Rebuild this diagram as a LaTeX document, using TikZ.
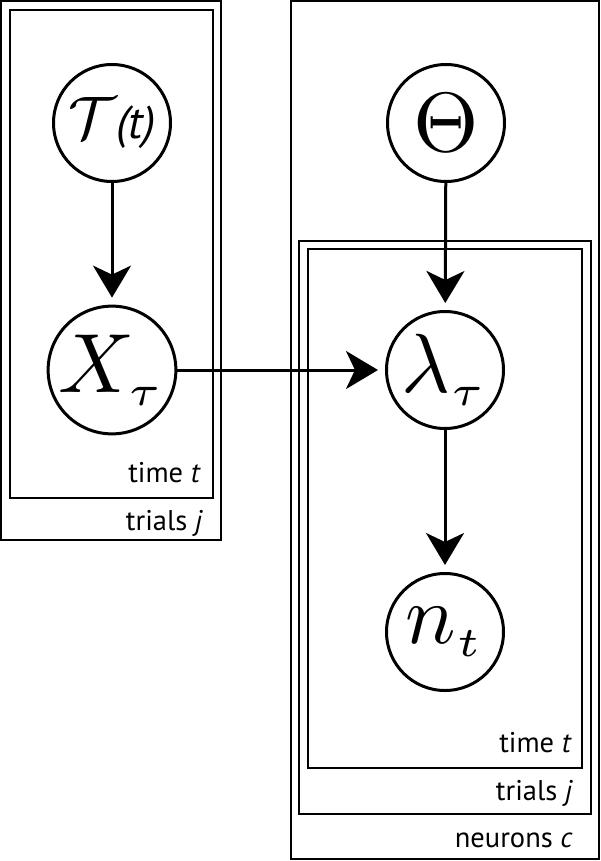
\documentclass[tikz,border=0pt]{standalone}
\usepackage{fontspec}
\usepackage{graphicx}
\newfontfamily\lab{PT Sans}
\usetikzlibrary{arrows.meta}
\begin{document}
\begin{tikzpicture}[x=1pt,y=-1pt,
  plate/.style={draw, line width=1.5pt},
  rv/.style={circle, draw, line width=3pt, minimum size=117pt, inner sep=0pt},
  arr/.style={line width=3pt, -{Stealth[length=32pt,width=38pt,inset=9pt]}, shorten >=7pt},
  lbl/.style={anchor=base east, inner sep=0pt, font=\lab\fontsize{28.5}{28.5}\selectfont}]
\useasboundingbox (0,0) rectangle (600,861);
% plates
\draw[plate] (1,1) rectangle (221,540);
\draw[plate] (10,10) rectangle (213,498);
\draw[plate] (291,1) rectangle (599,859);
\draw[plate] (299,241) rectangle (591,814);
\draw[plate] (308,249) rectangle (582,768);
% labels
\node[lbl] (l1) at (201,482) {time \textit{t}};
\node[lbl] (l2) at (203,530) {trials \textit{j}};
\node[lbl] (l3) at (572,752) {time \textit{t}};
\node[lbl] (l4) at (573,800) {trials \textit{j}};
\node[lbl] (l5) at (573,847) {neurons \textit{c}};
% variables
\node[rv] (tau) at (112,123) {\scalebox{6}{$\mathcal{T}$}\lab\itshape\fontsize{46}{46}\selectfont(t)};
\node[rv] (X) at (112,370) {\scalebox{8.4}{$X_{\scriptscriptstyle\tau}$}};
\node[rv] (th) at (446,123) {\scalebox{8.4}{$\Theta$}};
\node[rv] (lam) at (445,370) {\scalebox{8.4}{$\lambda_{\scriptscriptstyle\tau}$}};
\node[rv] (n) at (445,632) {\scalebox{8.4}{$n_{\scriptscriptstyle t}$}};
% arrows
\draw[arr] (tau) -- (X);
\draw[arr] (X) -- (lam);
\draw[arr] (th) -- (lam);
\draw[arr] (lam) -- (n);
\end{tikzpicture}
\end{document}
